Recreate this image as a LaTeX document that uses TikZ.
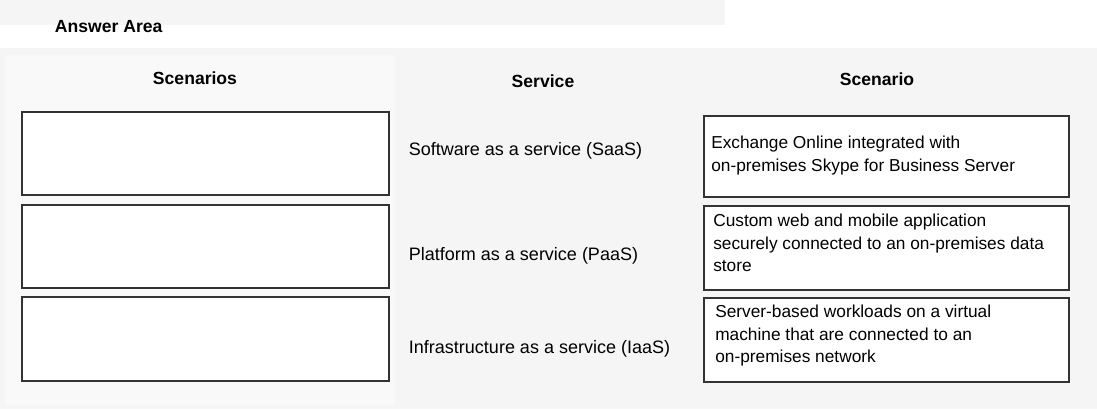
\documentclass[tikz,border=0pt]{standalone}
\usepackage{fontspec}
\setmainfont{Liberation Sans}
\usetikzlibrary{positioning}
\definecolor{pagegray}{HTML}{F5F5F5}
\definecolor{boxline}{HTML}{333333}
\tikzset{
  dropbox/.style={draw=boxline, fill=white, line width=0.8pt},
  head/.style={font=\bfseries\fontsize{12.5}{14}\selectfont, anchor=center},
  svc/.style={font=\fontsize{12.8}{15}\selectfont, anchor=west},
  scen/.style={font=\fontsize{12.3}{15.8}\selectfont, anchor=north west, align=left, inner sep=0pt}
}
\begin{document}
\begin{tikzpicture}[x=0.025cm, y=-0.025cm]
  % page and panels
  \fill[white] (0,0) rectangle (1097,409);
  \useasboundingbox (0,0) rectangle (1097,409);
  \fill[pagegray] (0,0) rectangle (725,25);
  \fill[pagegray] (0,48) rectangle (1097,409);
  \fill[pagegray!60] (5,55) rectangle (395,405);
  \node[font=\bfseries\fontsize{12.5}{14}\selectfont, anchor=west] (answer) at (50,27) {Answer Area};

  % headers
  \node[head] (hscen) at (195,78) {Scenarios};
  \node[head] (hsvc) at (543,81) {Service};
  \node[head] (hscenario) at (877,79) {Scenario};

  % answer boxes
  \draw[dropbox] (22,112) rectangle (389,195);
  \draw[dropbox] (22,205) rectangle (389,288);
  \draw[dropbox] (22,297) rectangle (389,381);

  % services
  \node[svc] (saas) at (404,151) {Software as a service (SaaS)};
  \node[svc] (paas) at (404,256) {Platform as a service (PaaS)};
  \node[svc] (iaas) at (404,349) {Infrastructure as a service (IaaS)};

  % scenarios
  \draw[dropbox] (704,116) rectangle (1069,197);
  \draw[dropbox] (704,206) rectangle (1069,290);
  \draw[dropbox] (704,298) rectangle (1069,382);
  \node[scen] (s1) at (711,136) {Exchange Online integrated with\\on-premises Skype for Business Server};
  \node[scen] (s2) at (713,214) {Custom web and mobile application\\securely connected to an on-premises data\\store};
  \node[scen] (s3) at (715,305) {Server-based workloads on a virtual\\machine that are connected to an\\on-premises network};
\end{tikzpicture}
\end{document}
